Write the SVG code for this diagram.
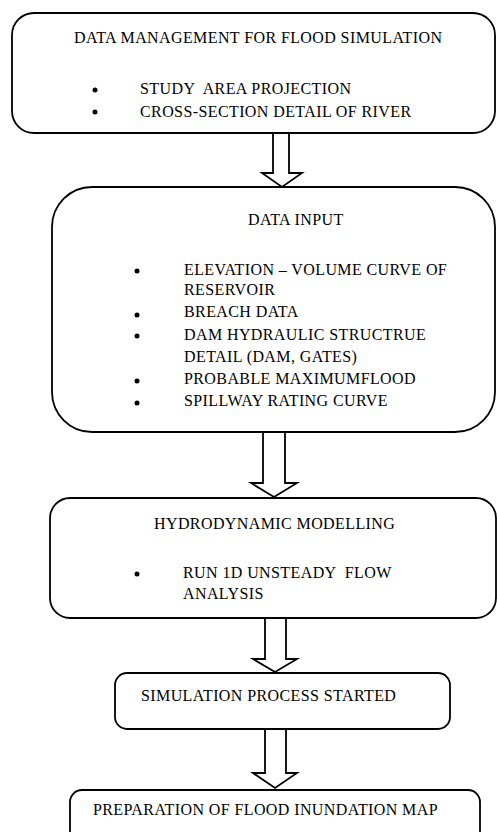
<svg xmlns="http://www.w3.org/2000/svg" width="497" height="832" viewBox="0 0 497 832">
<style>
.box{fill:#fff;stroke:#000;stroke-width:1.8}
.arr{fill:#fff;stroke:#000;stroke-width:1.8;stroke-linejoin:miter}
text{font-family:"Liberation Serif","Times New Roman",serif;font-size:16px;letter-spacing:0.4px;fill:#000;white-space:pre}
.b{fill:#000}
</style>
<rect width="497" height="832" fill="#fff"/>
<g id="connectors">
<polygon class="arr" points="273,133 289,133 289,173 302,173 282,187 262,173 273,173"/>
<polygon class="arr" points="263,432 285,432 285,483 297,483 274,497 251,483 263,483"/>
<polygon class="arr" points="265,618 286,618 286,659 297,659 275,672 253,659 265,659"/>
<polygon class="arr" points="265,729 286,729 286,773 297,773 275,788 253,773 265,773"/>
</g>
<g id="n1">
<rect class="box" x="12" y="13" width="483" height="120" rx="22"/>
<text x="74" y="43">DATA MANAGEMENT FOR FLOOD SIMULATION</text>
<circle class="b" cx="95" cy="90" r="2.5"/>
<circle class="b" cx="95" cy="112" r="2.5"/>
<text x="140" y="94" xml:space="preserve">STUDY  AREA PROJECTION</text>
<text x="140" y="117">CROSS-SECTION DETAIL OF RIVER</text>
</g>
<g id="n2">
<rect class="box" x="52" y="187" width="443" height="245" rx="40"/>
<text x="248" y="225">DATA INPUT</text>
<circle class="b" cx="137" cy="271" r="2.5"/>
<circle class="b" cx="137" cy="315" r="2.5"/>
<circle class="b" cx="137" cy="336" r="2.5"/>
<circle class="b" cx="137" cy="381" r="2.5"/>
<circle class="b" cx="137" cy="403" r="2.5"/>
<text x="184" y="275">ELEVATION – VOLUME CURVE OF</text>
<text x="184" y="295">RESERVOIR</text>
<text x="184" y="317">BREACH DATA</text>
<text x="184" y="340">DAM HYDRAULIC STRUCTRUE</text>
<text x="184" y="362">DETAIL (DAM, GATES)</text>
<text x="184" y="384">PROBABLE MAXIMUMFLOOD</text>
<text x="184" y="406">SPILLWAY RATING CURVE</text>
</g>
<g id="n3">
<rect class="box" x="50" y="498" width="446" height="120" rx="20"/>
<text x="154" y="529">HYDRODYNAMIC MODELLING</text>
<circle class="b" cx="137" cy="574" r="2.5"/>
<text x="183" y="578" xml:space="preserve">RUN 1D UNSTEADY  FLOW</text>
<text x="183" y="599">ANALYSIS</text>
</g>
<g id="n4">
<rect class="box" x="115" y="673" width="335" height="56" rx="12"/>
<text x="141" y="701">SIMULATION PROCESS STARTED</text>
</g>
<g id="n5">
<rect class="box" x="70" y="790" width="410" height="60" rx="12"/>
<text x="93" y="815">PREPARATION OF FLOOD INUNDATION MAP</text>
</g>
</svg>
